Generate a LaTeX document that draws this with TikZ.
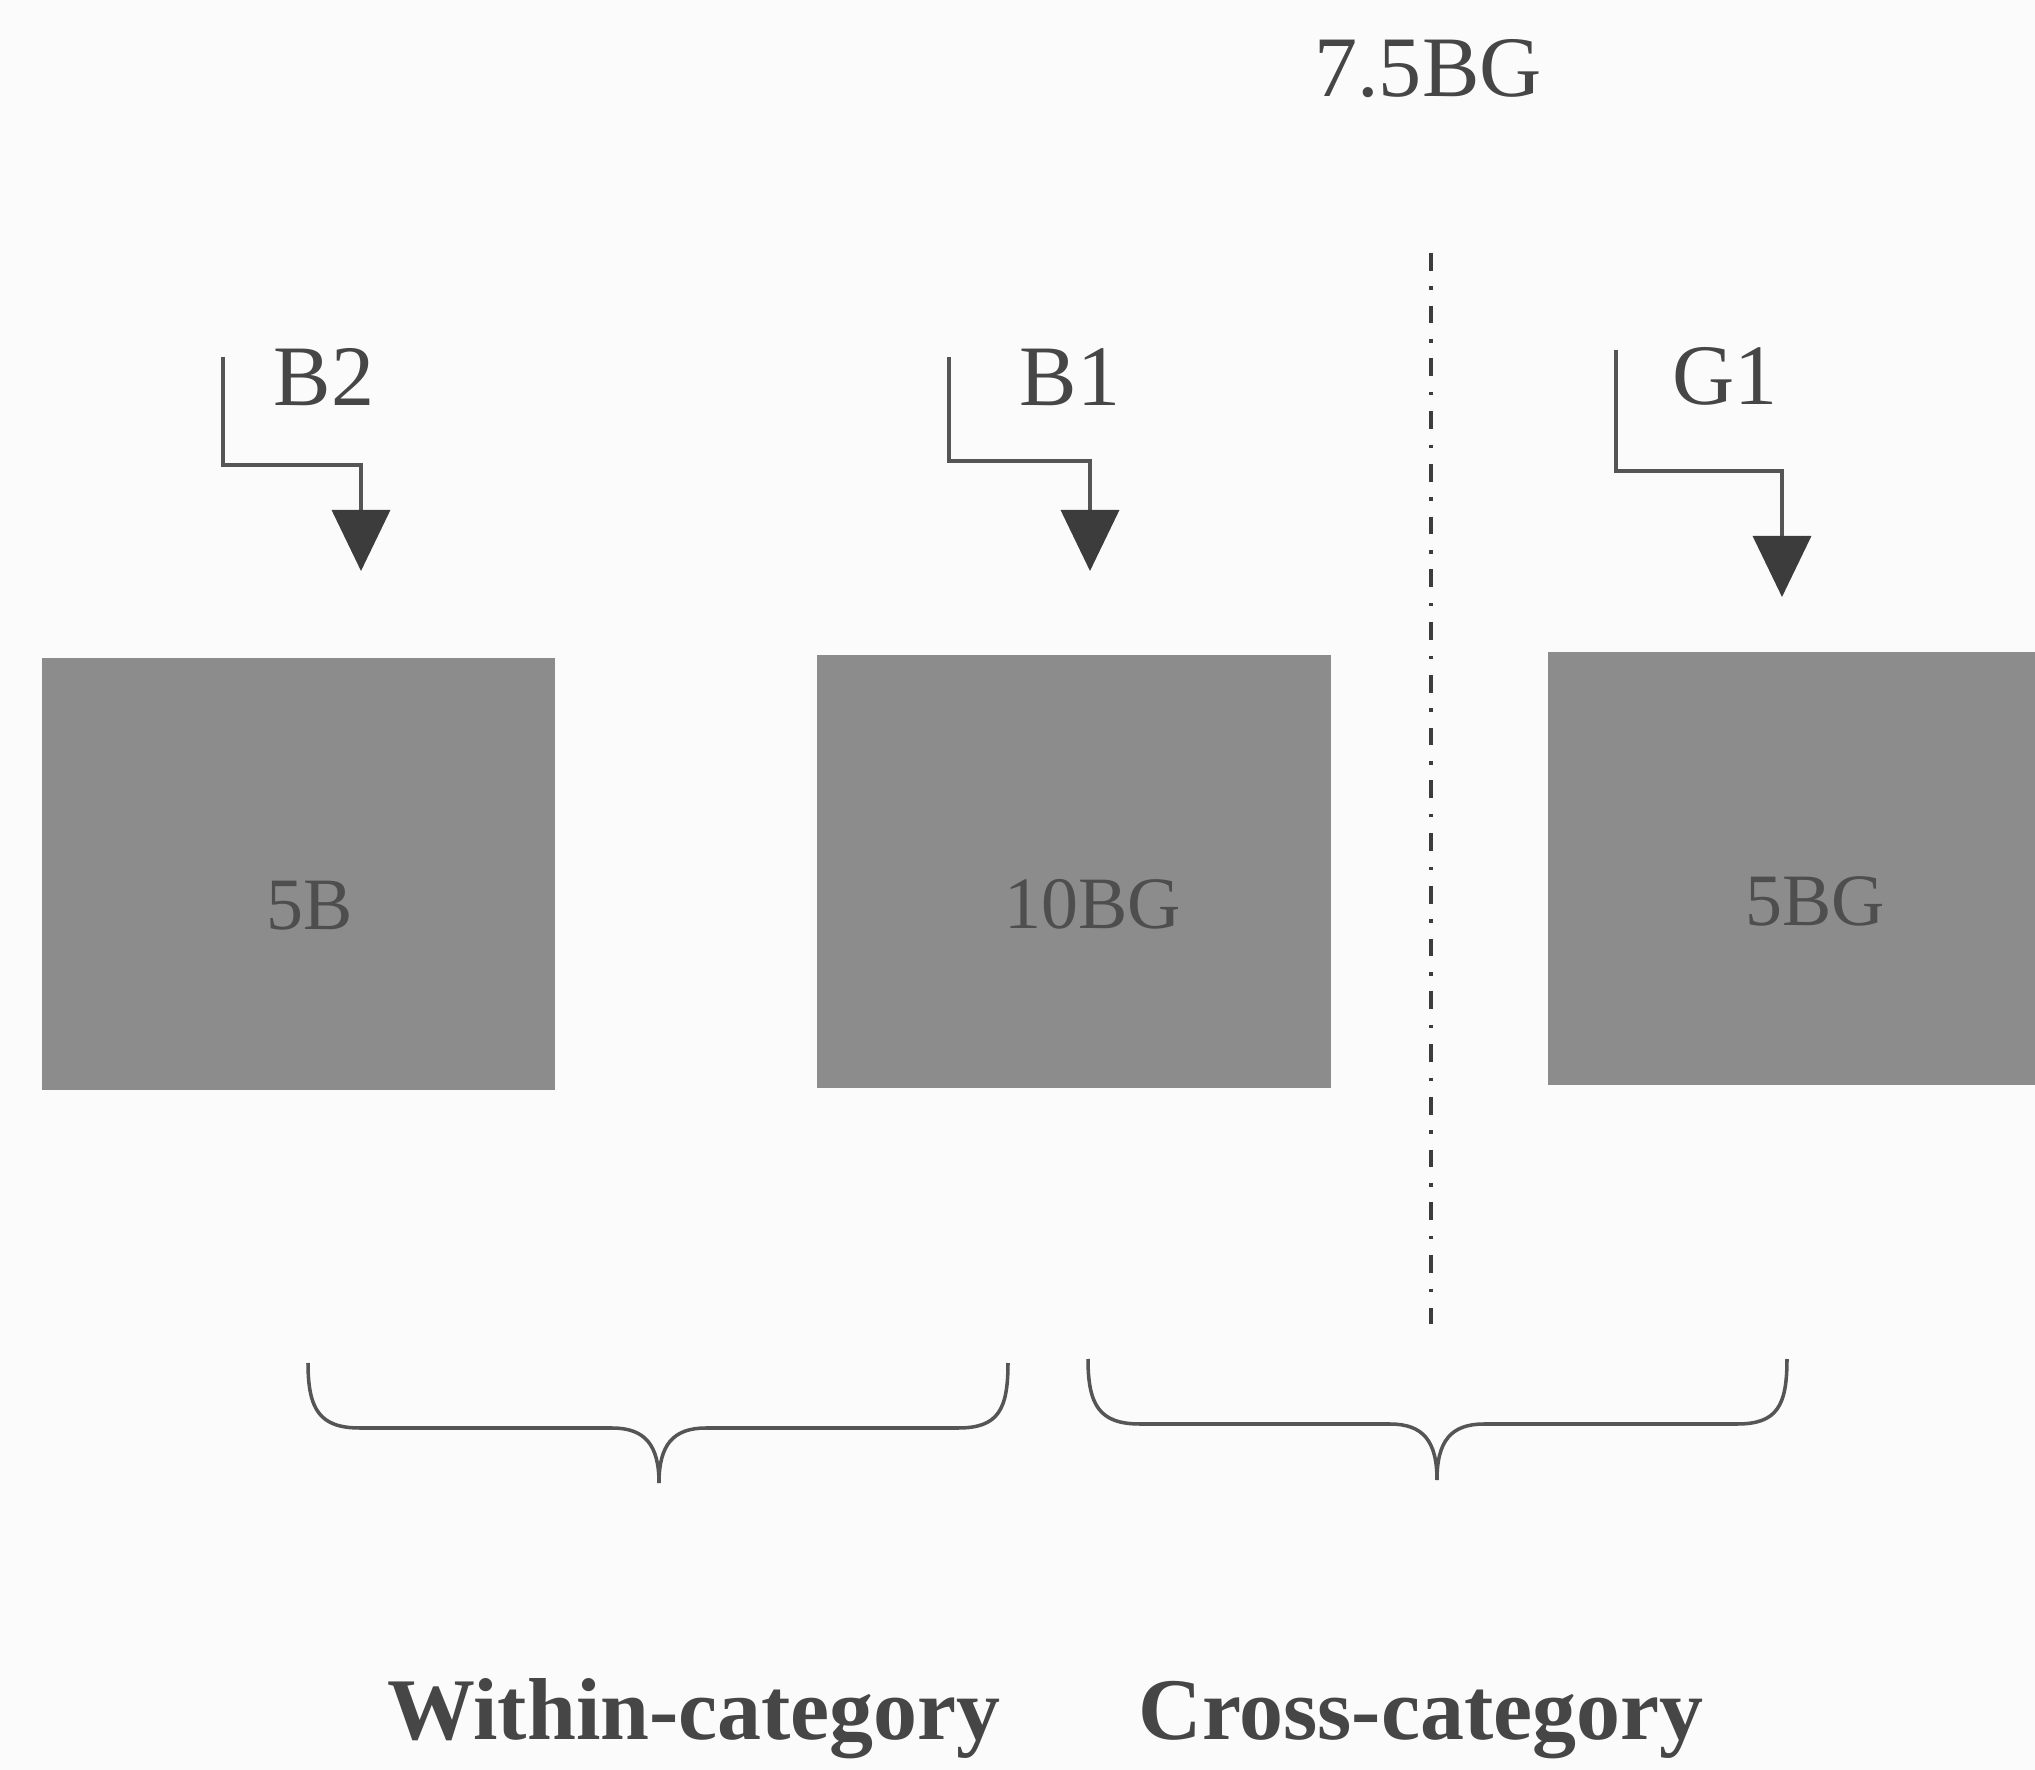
\documentclass[tikz,border=0pt]{standalone}
\usepackage{fontspec}
\setmainfont{Liberation Serif}
\usetikzlibrary{arrows.meta}
\definecolor{bgc}{RGB}{251,251,251}
\definecolor{boxc}{RGB}{140,140,140}
\definecolor{boxtxt}{RGB}{78,78,78}
\definecolor{linec}{RGB}{85,85,85}
\definecolor{headc}{RGB}{60,60,60}
\definecolor{txtc}{RGB}{70,70,70}
\begin{document}
\begin{tikzpicture}[x=0.01cm,y=-0.01cm,
  stim/.style={fill=boxc, draw=none, minimum width=5.13cm, minimum height=4.32cm, inner sep=0pt},
  stimtxt/.style={text=boxtxt, font=\fontsize{21}{25}\selectfont, inner sep=0pt},
  lbl/.style={text=txtc, font=\fontsize{24.5}{29}\selectfont, inner sep=0pt},
  cat/.style={text=txtc, font=\fontsize{25}{30}\selectfont\bfseries, inner sep=0pt},
  cue/.style={draw=linec, line width=1pt, -{Triangle[width=0.58cm,length=0.61cm,fill=headc,color=headc]}},
  brc/.style={draw=linec, line width=1pt},
  bound/.style={draw=headc, line width=1.3pt, dash pattern=on 5pt off 4.5pt on 1pt off 4.5pt}]
\path[use as bounding box] (0,0) rectangle (2035,1770);
\fill[bgc] (0,0) rectangle (2035,1770);
\clip (0,0) rectangle (2035,1770);

% top label and boundary
\node[lbl, anchor=base] (top) at (1428,97) {7.5BG};
\coordinate (ls) at (1431,253);
\coordinate (le) at (1431,1324);
\draw[bound] (ls) -- (le);

% stimuli
\node[stim] (b1) at (298.5,874) {};
\node[stim] (b2) at (1074,871.5) {};
\node[stim] (b3) at (1804.5,868.5) {};
\node[stimtxt] (t1) at ([shift={(11,32)}]b1.center) {5B};
\node[stimtxt] (t2) at ([shift={(19,33)}]b2.center) {10BG};
\node[stimtxt] (t3) at ([shift={(11,33)}]b3.center) {5BG};

% cue labels
\node[lbl, anchor=base west] (lB2) at (273,406) {B2};
\node[lbl, anchor=base west] (lB1) at (1019,406) {B1};
\node[lbl, anchor=base west] (lG1) at (1672,405) {G1};

% cue arrows
\coordinate (a1s) at (223,357);
\coordinate (a1e) at (361,571);
\coordinate (a2s) at (949,357);
\coordinate (a2e) at (1090,571);
\coordinate (a3s) at (1616,350);
\coordinate (a3e) at (1782,597);
\draw[cue] (a1s) -- ++(0,108) -| (a1e);
\draw[cue] (a2s) -- ++(0,104) -| (a2e);
\draw[cue] (a3s) -- ++(0,121) -| (a3e);

% braces
\draw[brc] (308,1363) .. controls (308,1410) and (320,1428) .. (360,1428)
  -- (612,1428) .. controls (645,1428) and (659,1445) .. (659,1483)
  .. controls (659,1445) and (673,1428) .. (706,1428)
  -- (958,1428) .. controls (998,1428) and (1008,1410) .. (1008,1363);
\draw[brc] (1088,1359) .. controls (1088,1406) and (1100,1424) .. (1140,1424)
  -- (1390,1424) .. controls (1423,1424) and (1437,1441) .. (1437,1480)
  .. controls (1437,1441) and (1451,1424) .. (1484,1424)
  -- (1737,1424) .. controls (1777,1424) and (1787,1406) .. (1787,1359);

% category labels
\node[cat, anchor=base] (w) at (694,1739) {Within-category};
\node[cat, anchor=base] (c) at (1421,1739) {Cross-category};
\end{tikzpicture}
\end{document}
